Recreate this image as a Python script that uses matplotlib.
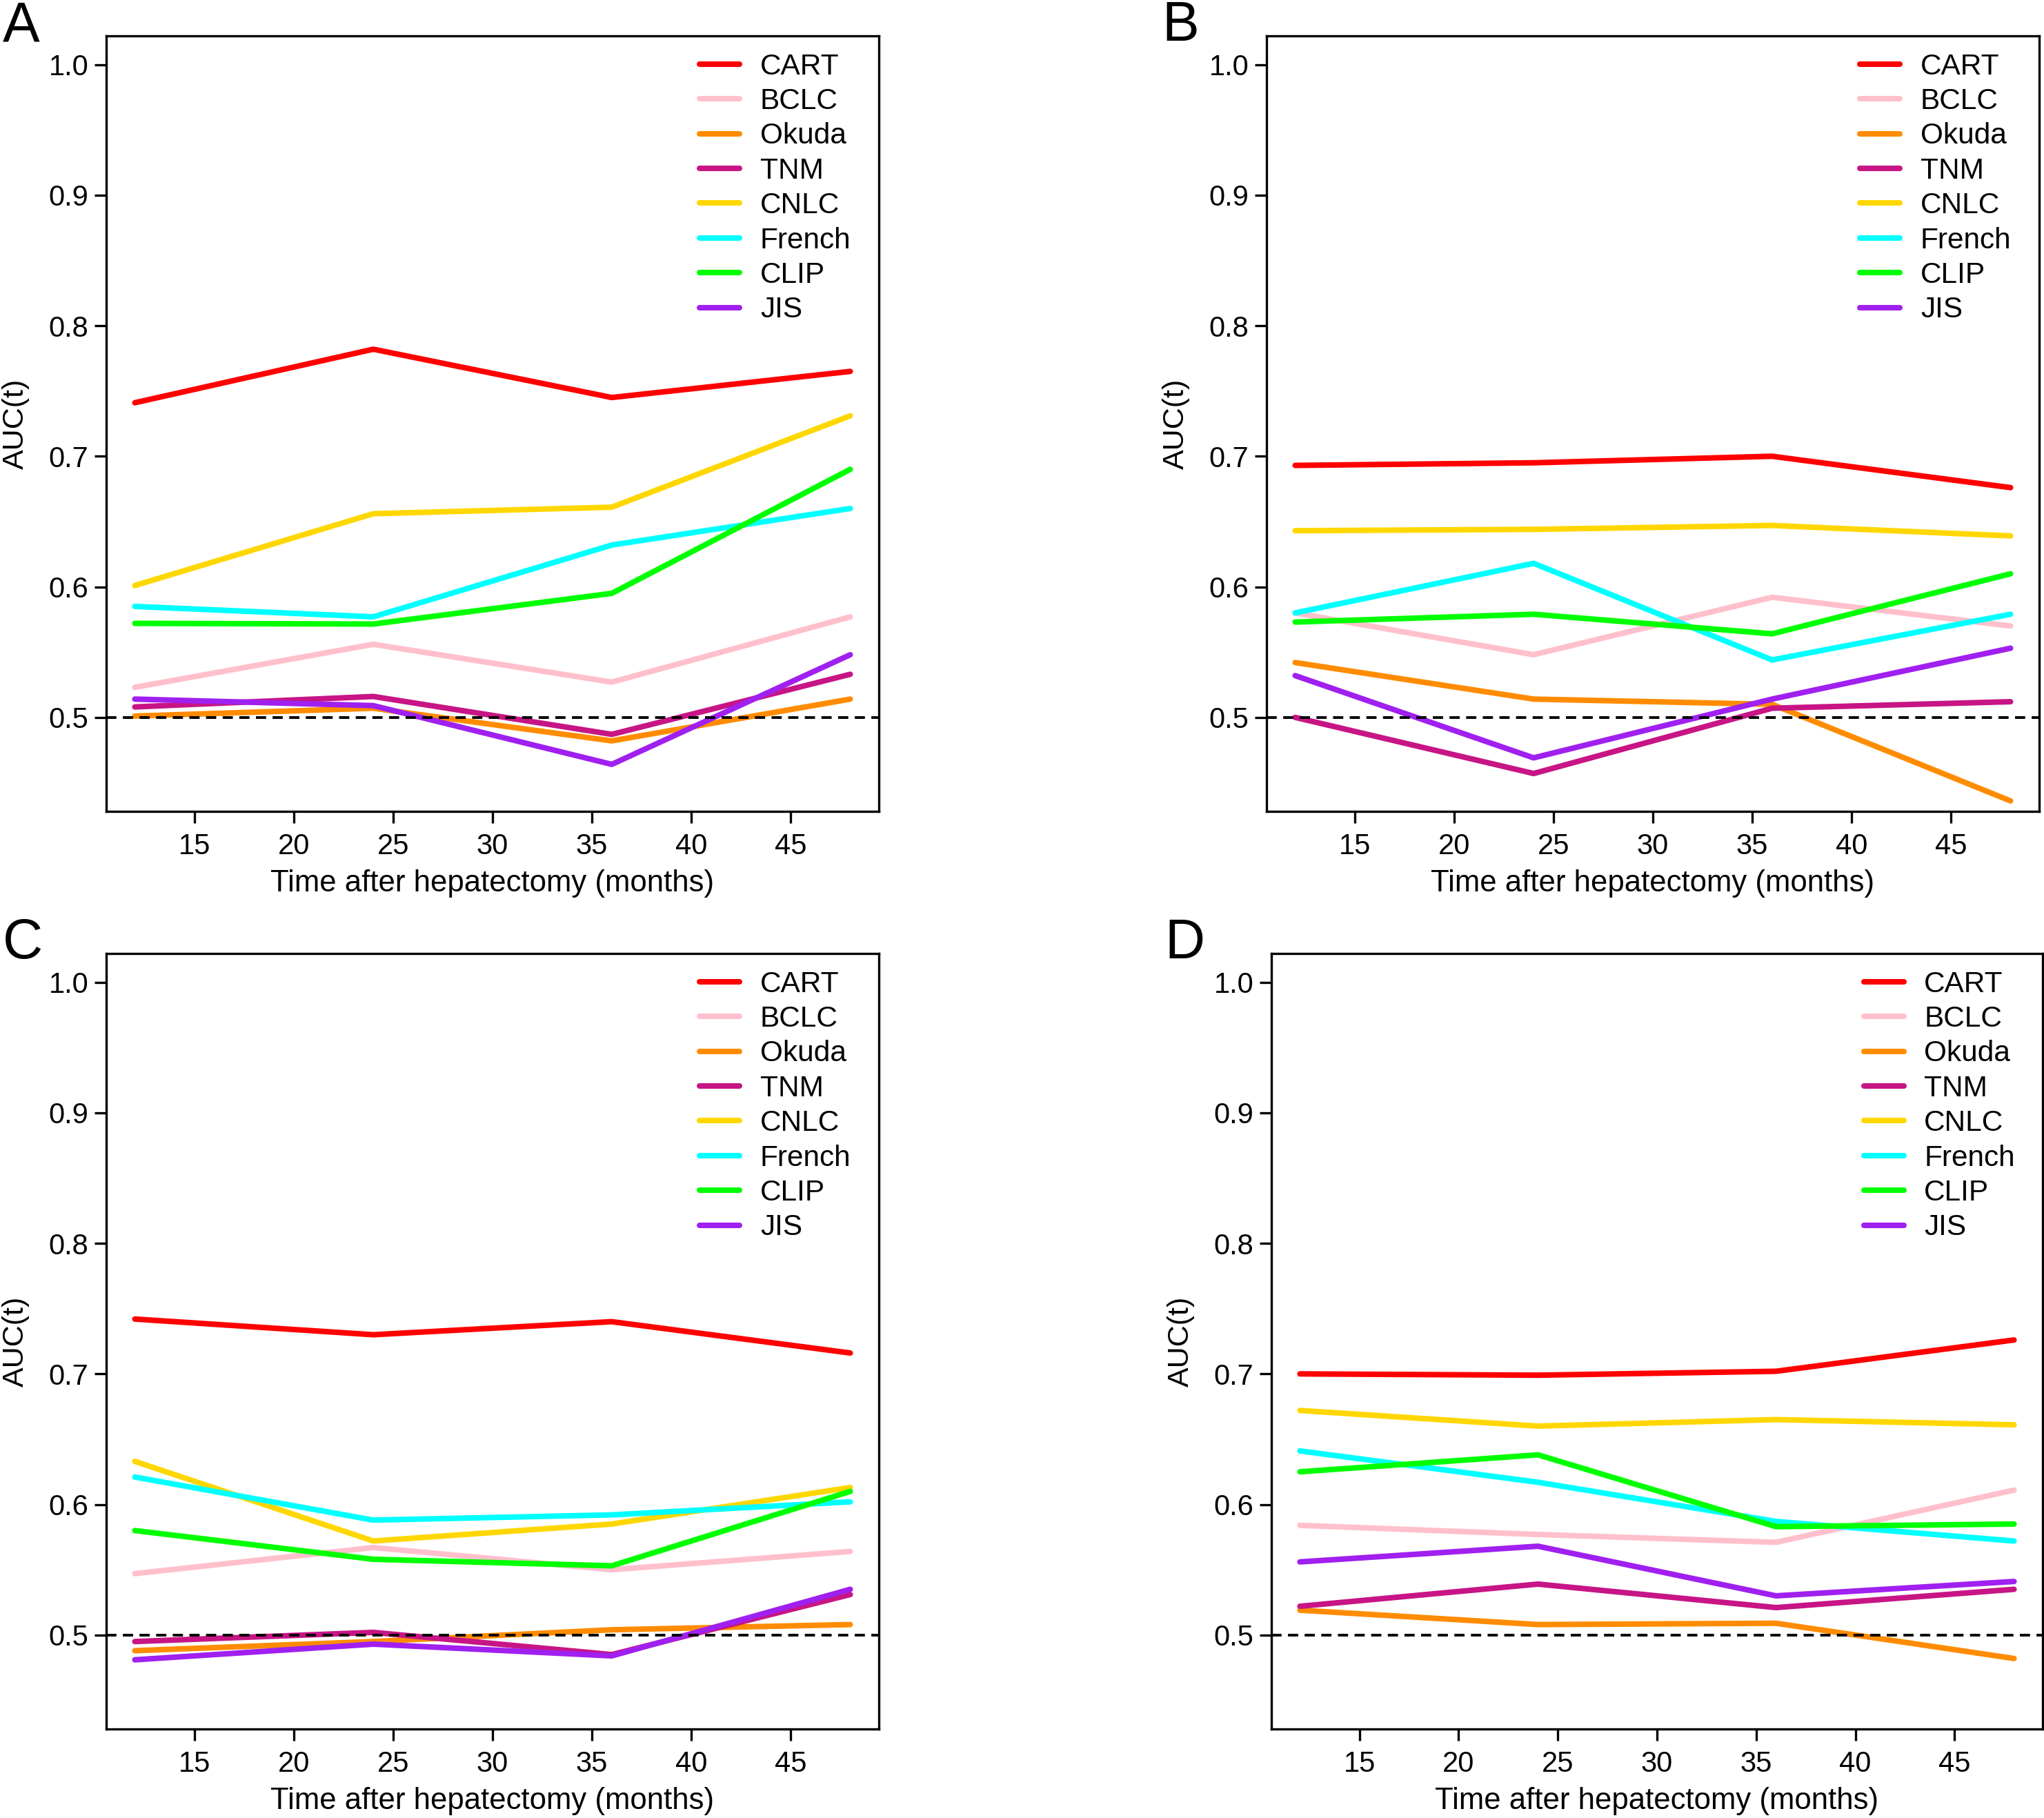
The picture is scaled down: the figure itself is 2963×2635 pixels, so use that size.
import matplotlib
matplotlib.use("Agg")
import matplotlib.pyplot as plt

plt.rcParams['font.family'] = ['Liberation Sans', 'DejaVu Sans']

times = [12, 24, 36, 48]
models = ["CART", "BCLC", "Okuda", "TNM", "CNLC", "French", "CLIP", "JIS"]
colors = ["#FF0000", "#FFC0CB", "#FF8C00", "#C71585", "#FFD700", "#00FFFF", "#00FF00", "#A020F0"]

# Panel A
A_CART = [0.741, 0.782, 0.745, 0.765]
A_BCLC = [0.523, 0.556, 0.527, 0.577]
A_Okuda = [0.501, 0.507, 0.482, 0.514]
A_TNM = [0.508, 0.516, 0.487, 0.533]
A_CNLC = [0.601, 0.656, 0.661, 0.731]
A_French = [0.585, 0.577, 0.632, 0.660]
A_CLIP = [0.572, 0.5715, 0.595, 0.690]
A_JIS = [0.514, 0.509, 0.464, 0.548]

# Panel B
B_CART = [0.693, 0.695, 0.700, 0.676]
B_BCLC = [0.580, 0.548, 0.592, 0.570]
B_Okuda = [0.542, 0.514, 0.510, 0.436]
B_TNM = [0.500, 0.457, 0.507, 0.512]
B_CNLC = [0.643, 0.644, 0.647, 0.639]
B_French = [0.580, 0.618, 0.544, 0.579]
B_CLIP = [0.573, 0.579, 0.564, 0.610]
B_JIS = [0.532, 0.469, 0.514, 0.553]

# Panel C
C_CART = [0.742, 0.730, 0.740, 0.716]
C_BCLC = [0.547, 0.567, 0.550, 0.564]
C_Okuda = [0.488, 0.495, 0.504, 0.508]
C_TNM = [0.495, 0.502, 0.485, 0.531]
C_CNLC = [0.633, 0.572, 0.585, 0.613]
C_French = [0.621, 0.588, 0.592, 0.602]
C_CLIP = [0.580, 0.558, 0.553, 0.610]
C_JIS = [0.481, 0.493, 0.484, 0.535]

# Panel D
D_CART = [0.700, 0.699, 0.702, 0.726]
D_BCLC = [0.584, 0.577, 0.571, 0.611]
D_Okuda = [0.519, 0.508, 0.509, 0.482]
D_TNM = [0.522, 0.539, 0.521, 0.535]
D_CNLC = [0.672, 0.660, 0.665, 0.661]
D_French = [0.641, 0.617, 0.587, 0.572]
D_CLIP = [0.625, 0.638, 0.583, 0.585]
D_JIS = [0.556, 0.568, 0.530, 0.541]

panels = {
    "A": [A_CART, A_BCLC, A_Okuda, A_TNM, A_CNLC, A_French, A_CLIP, A_JIS],
    "B": [B_CART, B_BCLC, B_Okuda, B_TNM, B_CNLC, B_French, B_CLIP, B_JIS],
    "C": [C_CART, C_BCLC, C_Okuda, C_TNM, C_CNLC, C_French, C_CLIP, C_JIS],
    "D": [D_CART, D_BCLC, D_Okuda, D_TNM, D_CNLC, D_French, D_CLIP, D_JIS],
}

xticks = [15, 20, 25, 30, 35, 40, 45]
yticks = [0.5, 0.6, 0.7, 0.8, 0.9, 1.0]

W, H = 2963, 2635
fig = plt.figure(figsize=(W / 100, H / 100), dpi=100)

# axes boxes in pixels: left, top, width, height
boxes = {
    "A": (154, 52, 1120, 1124),
    "B": (1836, 52, 1120, 1124),
    "C": (154, 1382, 1120, 1124),
    "D": (1843, 1382, 1118, 1124),
}
letter_pos = {"A": (4, 0), "B": (1684, 0), "C": (4, 1330), "D": (1688, 1330)}

FS = 30
for key, series in panels.items():
    l, t, w, h = boxes[key]
    ax = fig.add_axes([l / W, 1 - (t + h) / H, w / W, h / H])
    for name, col, vals in zip(models, colors, series):
        ax.plot(times, vals, color=col, lw=5.8, label=name,
                solid_capstyle='round', solid_joinstyle='round')
    ax.axhline(0.5, color='black', lw=2.8, linestyle=(0, (3.8, 2.4)))
    ax.set_xlim(12 - 1.44, 48 + 1.44)
    ax.set_ylim(0.45 - 0.022, 1.0 + 0.022)
    ax.set_xticks(xticks)
    ax.set_xticklabels([str(v) for v in xticks])
    ax.set_yticks(yticks)
    ax.set_yticklabels([f"{v:.1f}" for v in yticks])
    ax.tick_params(axis='both', direction='out', length=12.5, width=2.4,
                   labelsize=FS, color='black')
    ax.tick_params(axis='x', pad=10)
    ax.tick_params(axis='y', pad=6)
    for sp in ax.spines.values():
        sp.set_linewidth(2.4)
        sp.set_color('black')
    ax.text(-0.117, 0.5, "AUC(t)", transform=ax.transAxes, rotation=90,
            ha='center', va='center', fontsize=31)
    ax.text(0.5, -0.093, "Time after hepatectomy (months)", transform=ax.transAxes,
            ha='center', va='center', fontsize=31.5)
    ax.legend(loc='upper left', bbox_to_anchor=(0.768, 0.978), frameon=False,
              fontsize=30.5, handlelength=1.37, handletextpad=0.70,
              labelspacing=0.245, borderpad=0, borderaxespad=0)
    lx, ly = letter_pos[key]
    fig.text(lx / W, 1 - ly / H, key, ha='left', va='top', fontsize=58)

fig.savefig("out.png", dpi=100)
